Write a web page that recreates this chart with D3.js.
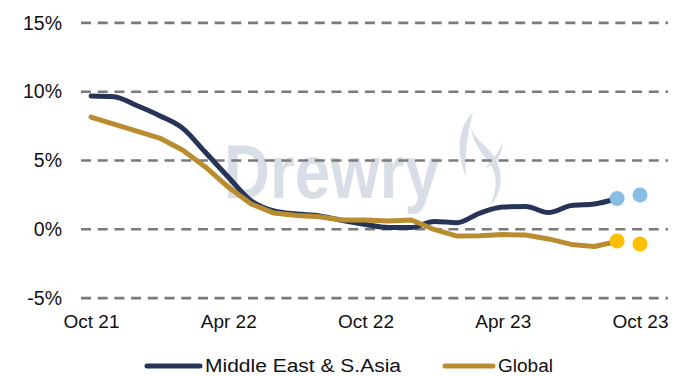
<!DOCTYPE html>
<html>
<head>
<meta charset="utf-8">
<script src="https://cdn.jsdelivr.net/npm/d3@7"></script>
<style>
  html, body { margin: 0; padding: 0; background: #fff; }
  svg { display: block; }
  text { font-family: "Liberation Sans", Arial, Helvetica, sans-serif; }
</style>
</head>
<body>
<svg id="chart" width="689" height="376"></svg>
<script>
// Monthly series, Oct 21 onwards (year-on-year change, %)
const months = ["Oct 21","Nov 21","Dec 21","Jan 22","Feb 22","Mar 22","Apr 22","May 22",
  "Jun 22","Jul 22","Aug 22","Sep 22","Oct 22","Nov 22","Dec 22","Jan 23","Feb 23",
  "Mar 23","Apr 23","May 23","Jun 23","Jul 23","Aug 23","Sep 23","Oct 23"];
const meSAsia = [9.69, 9.64, 9.0, 8.26, 7.35, 5.6, 3.8, 2.07, 1.33, 1.11, 0.97, 0.64,
  0.35, 0.13, 0.13, 0.57, 0.48, 1.18, 1.62, 1.66, 1.22, 1.73, 1.84, 2.24];
const globalSeries = [8.16, 7.65, 7.14, 6.63, 5.76, 4.53, 3.07, 1.84, 1.18, 1.0, 0.91, 0.68,
  0.68, 0.6, 0.68, -0.01, -0.49, -0.47, -0.38, -0.42, -0.7, -1.1, -1.25, -0.89];
// Latest points and the next-month projection
const forecastMonths = ["Sep 23", "Oct 23"];
const meSAsiaForecast = [2.24, 2.49];
const globalForecast = [-0.85, -1.07];
const yTicks = [-5, 0, 5, 10, 15];
const xTickLabels = ["Oct 21", "Apr 22", "Oct 22", "Apr 23", "Oct 23"];
const seriesNames = ["Middle East & S.Asia", "Global"];

const colors = { me: "#263457", global: "#B98D2F", meDot: "#88BDE6", globalDot: "#FFC000" };

const svg = d3.select("#chart");

const x = d3.scaleLinear().domain([0, months.length - 1]).range([91, 640]);
const y = d3.scaleLinear().domain([-5, 15]).range([298.1, 22.9]);
const xi = m => months.indexOf(m);

// Watermark
const wm = svg.append("g").attr("fill", "#D9DEE6");
wm.append("text").attr("x", 224).attr("y", 198)
  .attr("font-size", 76).attr("font-weight", "bold")
  .attr("textLength", 216).attr("lengthAdjust", "spacingAndGlyphs")
  .text("Drewry");
wm.append("path").attr("d", "M473,112 C459,126 455,150 466,177 C465,160 466,138 473,112 Z");
wm.append("path").attr("d", "M471,127 C473,146 485,156 492,167 C498,178 496,193 490,206 C503,192 504,172 494,156 C484,143 474,139 471,127 Z");
wm.append("path").attr("d", "M502,142 C499,155 490,160 486,168 C495,164 503,156 502,142 Z");

// Gridlines, above the watermark
svg.append("g").selectAll("line").data(yTicks).join("line")
  .attr("x1", 81).attr("x2", 668)
  .attr("y1", d => y(d)).attr("y2", d => y(d))
  .attr("stroke", "#7a7a7a").attr("stroke-width", 2.6)
  .attr("stroke-dasharray", "10,6.7");

// Y axis
const yAxis = svg.append("g").attr("transform", "translate(62,0)")
  .call(d3.axisLeft(y).tickValues(yTicks).tickSize(0).tickPadding(0).tickFormat(d => d + "%"));
yAxis.select(".domain").remove();
yAxis.selectAll("text").attr("font-size", 19.5).attr("fill", "#111")
  .attr("font-family", "'Liberation Sans', Arial, sans-serif");

// X axis
const xAxis = svg.append("g").attr("transform", "translate(0,314)")
  .call(d3.axisBottom(x).tickValues(xTickLabels.map(xi)).tickSize(0).tickPadding(0)
    .tickFormat(i => months[i]));
xAxis.select(".domain").remove();
xAxis.selectAll("text").attr("font-size", 19).attr("fill", "#111")
  .attr("font-family", "'Liberation Sans', Arial, sans-serif");

// Lines
const meLine = d3.line().x((d, i) => x(i)).y(d => y(d)).curve(d3.curveMonotoneX);
const glLine = d3.line().x((d, i) => x(i)).y(d => y(d));

svg.append("path").datum(meSAsia).attr("d", meLine)
  .attr("fill", "none").attr("stroke", colors.me).attr("stroke-width", 5)
  .attr("stroke-linecap", "round").attr("stroke-linejoin", "round");
svg.append("path").datum(globalSeries).attr("d", glLine)
  .attr("fill", "none").attr("stroke", colors.global).attr("stroke-width", 5)
  .attr("stroke-linecap", "round").attr("stroke-linejoin", "round");

// Projection dots
svg.append("g").selectAll("circle").data(meSAsiaForecast).join("circle")
  .attr("cx", (d, i) => x(xi(forecastMonths[i]))).attr("cy", d => y(d))
  .attr("r", 7.5).attr("fill", colors.meDot);
svg.append("g").selectAll("circle").data(globalForecast).join("circle")
  .attr("cx", (d, i) => x(xi(forecastMonths[i]))).attr("cy", d => y(d))
  .attr("r", 7.5).attr("fill", colors.globalDot);

// Legend
const legendItems = [
  { name: seriesNames[0], color: colors.me, x1: 147, x2: 200, w: 196 },
  { name: seriesNames[1], color: colors.global, x1: 445, x2: 493, w: 55 }
];
const lg = svg.append("g");
legendItems.forEach(it => {
  lg.append("line").attr("x1", it.x1).attr("x2", it.x2).attr("y1", 366).attr("y2", 366)
    .attr("stroke", it.color).attr("stroke-width", 5).attr("stroke-linecap", "round");
  lg.append("text").attr("x", it.x2 + 5).attr("y", 372)
    .attr("font-size", 18).attr("fill", "#111")
    .attr("textLength", it.w).attr("lengthAdjust", "spacingAndGlyphs")
    .text(it.name);
});
</script>
</body>
</html>
